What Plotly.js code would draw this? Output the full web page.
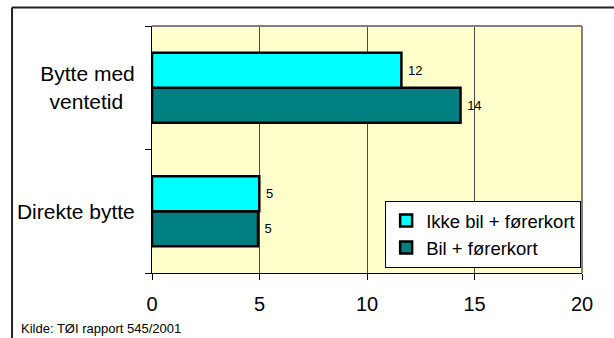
<!DOCTYPE html>
<html>
<head>
<meta charset="utf-8">
<script src="https://cdn.plot.ly/plotly-3.0.1.min.js"></script>
<style>
  html, body { margin: 0; padding: 0; background: #ffffff; }
  #chart { width: 614px; height: 338px; }
</style>
</head>
<body>
<div id="chart"></div>
<script>
// Categories (bottom to top) and the two series, in percent
const categories = ['Direkte bytte', 'Bytte med<br>ventetid\u00a0\u00a0'];
const seriesNames = ['Bil + førerkort', 'Ikke bil + førerkort'];
const bilForerkort = [4.93, 14.35];
const ikkeBilForerkort = [4.99, 11.6];
const xTickValues = [0, 5, 10, 15, 20];
const sourceNote = 'Kilde: TØI rapport 545/2001';

const FONT = 'Arial, "Liberation Sans", sans-serif';

function barTrace(name, values, color) {
  return {
    type: 'bar',
    orientation: 'h',
    name: name,
    x: values,
    y: categories,
    marker: { color: color, line: { color: '#000000', width: 2.5 } },
    texttemplate: '\u00a0%{x:.0f}',
    textposition: 'outside',
    textfont: { family: FONT, size: 13, color: '#000000' },
    cliponaxis: false,
    hoverinfo: 'skip'
  };
}

const data = [
  barTrace(seriesNames[0], bilForerkort, '#008080'),
  barTrace(seriesNames[1], ikkeBilForerkort, '#00FFFF')
];

const layout = {
  width: 614,
  height: 338,
  margin: { l: 152, r: 32, t: 26, b: 65, pad: 0 },
  paper_bgcolor: '#ffffff',
  plot_bgcolor: '#FFFFCC',
  font: { family: FONT, color: '#000000' },
  barmode: 'group',
  bargap: 0.435,
  bargroupgap: 0,
  showlegend: true,
  legend: {
    x: 0.998, y: 0.2915, xanchor: 'right', yanchor: 'top',
    bgcolor: '#ffffff', bordercolor: '#000000', borderwidth: 1,
    traceorder: 'reversed',
    font: { family: FONT, size: 18.5, color: '#000000' }
  },
  xaxis: {
    range: [0, 20],
    tickmode: 'array',
    tickvals: xTickValues,
    ticks: 'outside', ticklen: 6, tickcolor: '#000000', tickwidth: 1,
    showline: true, linecolor: '#000000', linewidth: 1,
    showgrid: true, gridcolor: '#4a4a4a', gridwidth: 1,
    zeroline: false,
    tickfont: { family: FONT, size: 20, color: '#000000' },
    ticklabelstandoff: 7,
    fixedrange: true
  },
  yaxis: {
    type: 'category',
    tickson: 'boundaries',
    ticks: 'outside', ticklen: 6, tickcolor: '#000000', tickwidth: 1,
    showline: true, linecolor: '#000000', linewidth: 1,
    showgrid: false, zeroline: false,
    tickfont: { family: FONT, size: 21, color: '#000000' },
    ticklabelstandoff: 12,
    fixedrange: true
  },
  shapes: [
    // grey frame on the top and right of the plot area
    { type: 'line', xref: 'paper', yref: 'paper', x0: 0, x1: 1, y0: 1, y1: 1,
      line: { color: '#808080', width: 2 }, layer: 'above' },
    { type: 'line', xref: 'paper', yref: 'paper', x0: 1, x1: 1, y0: 0, y1: 1,
      line: { color: '#808080', width: 2 }, layer: 'above' },
    // outer chart border (left and top edges)
    { type: 'line', xref: 'paper', yref: 'paper', x0: -0.3255, x1: -0.3255, y0: -0.3, y1: 1.0749,
      line: { color: '#222222', width: 2 } },
    { type: 'line', xref: 'paper', yref: 'paper', x0: -0.3255, x1: 1.2, y0: 1.0749, y1: 1.0749,
      line: { color: '#222222', width: 2 } }
  ],
  annotations: [
    { text: sourceNote, xref: 'paper', yref: 'paper',
      x: -0.3083, y: -0.2265, xanchor: 'left', yanchor: 'middle',
      showarrow: false, font: { family: FONT, size: 13, color: '#000000' } }
  ]
};

Plotly.newPlot('chart', data, layout, { displayModeBar: false, staticPlot: true });
</script>
</body>
</html>
